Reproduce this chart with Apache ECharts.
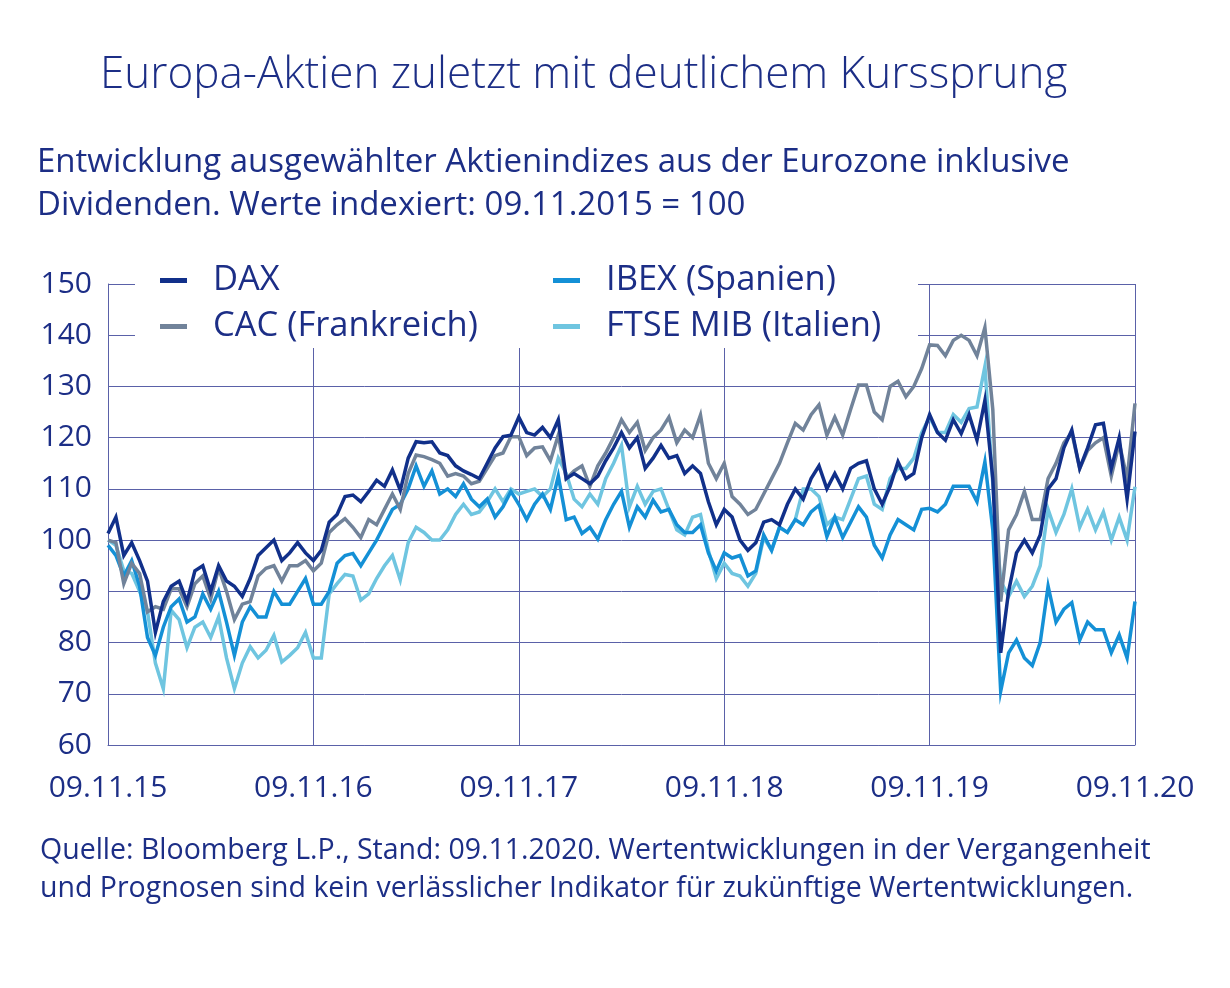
<!DOCTYPE html>
<html>
<head>
<meta charset="utf-8">
<script src="https://cdn.jsdelivr.net/npm/echarts@6/dist/echarts.min.js"></script>
<style>
html,body{margin:0;padding:0;background:#fff;}
#chart{width:1230px;height:988px;}
</style>
</head>
<body>
<div id="chart"></div>
<script>
// x-axis tick labels (one per year, 26 samples per year)
const xLabels = ['09.11.15','09.11.16','09.11.17','09.11.18','09.11.19','09.11.20'];
const seriesNames = ['DAX','CAC (Frankreich)','IBEX (Spanien)','FTSE MIB (Italien)'];

const dax = [101.3,104.5,97,99.5,96,92,82,88,91,92,88,94,95,90,95,92,91,89,92.5,97,98.5,100,96,97.5,99.5,97.5,
96,98,103.5,105,108.5,108.8,107.5,109.5,111.7,110.5,113.7,109.7,116,119.2,119,119.2,117,116.5,114.5,113.5,112.8,112,115,118,120.2,120.5,
124,121,120.5,122,120,123.5,112,113,112,111,112.5,115.5,118,121,118,120,114,116,118.5,116,116.5,113,114.5,113,107.5,103,
106,104.5,100,98,99.5,103.5,104,103,107,110,108,112,114.5,110,113,110,114,115,115.5,110,107,110.5,115.3,112,113,120,
124.5,121,119.5,123.5,120.8,124.5,119.5,127.3,112,78,90,97.5,100,97.5,101,110,112,118,121.5,114,118,122.5,122.8,114,120,108,121.2];

const cac = [100,99.5,91.5,95.5,93.5,86,87,86.5,90.5,90.5,87,91.5,93,88.5,94.5,90,84.5,87.5,88,93,94.5,95,92,95,95,96,
94,95.5,101.5,103,104.2,102.5,100.5,104,103,106,109,106,113,116.6,116.3,115.7,115,112.5,113,112.5,111,111.5,114,116.5,117,120.2,
120.2,116.5,118,118.2,115.5,120.5,112,113.5,114.5,110.5,114.5,117,120,123.5,121,123,117.5,120,121.5,124,119,121.5,120,124.4,115,112,
115,108.5,107,105,106,109,112,115,119,122.8,121.5,124.5,126.4,120.5,124,120.5,125.5,130.3,130.3,125,123.5,130,131,128,130,133.5,
138.1,138,136,139,140,139,136,141.5,125.5,88,102,105,109.5,104,104,112,115,119,121,114,117.5,119,120,112.5,119,112,126.7];

const ibex = [99,97,93,96,91,81,77.5,83,87,88.5,84,85,89.5,86.5,90,84,77.5,84,87,85,85,90,87.5,87.5,90,92.5,
87.5,87.5,90,95.5,97,97.4,95,97.5,100,103,106,107,110,114.5,110.5,113.5,109,110,108.5,111,108,106.5,108,104.5,106.5,109.5,
107,104,107,109,106,112.5,104,104.5,101.3,102.5,100.2,104,107,109.5,102.5,106.5,104.5,107.8,105.5,106,103,101.5,101.5,103,97.5,94,
97.5,96.5,97,93,94,101,98,102.5,101.5,104,103,105.5,106.8,100.7,104.5,100.5,103.5,106.5,104.5,99,96.5,101,104,103,102,106,
106.2,105.5,107,110.5,110.5,110.5,107.5,115.3,102,70.5,78,80.5,77,75.5,80,91,84,86.5,87.8,80.5,84,82.5,82.5,78,81.5,77,88];

const ftse = [100,99,94,93.5,90,86,76,71,86.3,84.5,79,83,84,81,85,77,71,76,79.2,77,78.5,81.4,76.2,77.5,79,82,
77,77,89.5,91.5,93.3,93,88.3,89.5,92.5,95,97,92.2,99.5,102.5,101.5,100,100,102,105,107,105,105.5,107.5,110,107.5,110,
109,109.5,110,108.5,110,116,113,108,106.5,109,107,112,115,118.5,106.5,110.5,107,109.5,110,106,102,101,104.5,105,98,92.5,
95.5,93.5,93,91,93.5,100.5,98,102.5,101.5,104,110,110,108.5,103,104.5,104,108,112,112.5,107,106,112,114,114,116,121,
124,121,121,124.5,123,125.7,126,133.9,111,92,89,92,89,91,95,106,101.5,105,110,102.5,106,102,105.5,100,104.5,100,110.4];

const colors = ['#11308a','#71839a','#1490d6','#6fc5e0'];
const textColor = '#1c2e86';
const gridColor = '#5a61a8';
const FONT = '"Open Sans", "Noto Sans", sans-serif';

const chart = echarts.init(document.getElementById('chart'), null, {renderer:'canvas'});
const allData = [dax, cac, ibex, ftse];
const order = [3,2,1,0];
const series = order.map(k => ({
  name: seriesNames[k],
  type: 'line',
  data: allData[k].map((v,i)=>[i,v]),
  showSymbol: false,
  symbol: 'none',
  lineStyle: {width: 3.5, color: colors[k], join: 'miter'},
  itemStyle: {color: colors[k]},
  z: 2 + (3-k),
  animation: false
}));

const option = {
  animation: false,
  backgroundColor: '#fff',
  textStyle: {fontFamily: FONT},
  title: [
    {text: 'Europa-Aktien zuletzt mit deutlichem Kurssprung', left: 100, top: 50, padding: 0,
     textStyle: {fontFamily: FONT, fontSize: 44, fontWeight: 300, color: textColor, lineHeight: 50}},
    {text: 'Entwicklung ausgewählter Aktienindizes aus der Eurozone inklusive\nDividenden. Werte indexiert: 09.11.2015 = 100',
     left: 37, top: 141, padding: 0,
     textStyle: {fontFamily: FONT, fontSize: 33, fontWeight: 400, color: textColor, lineHeight: 43}},
    {text: 'Quelle: Bloomberg L.P., Stand: 09.11.2020. Wertentwicklungen in der Vergangenheit\nund Prognosen sind kein verlässlicher Indikator für zukünftige Wertentwicklungen.',
     left: 40, top: 832, padding: 0,
     textStyle: {fontFamily: FONT, fontSize: 28.5, fontWeight: 400, color: textColor, lineHeight: 38}}
  ],
  legend: [
    {data: [seriesNames[0], seriesNames[1]], orient: 'vertical', left: 160, top: 263, padding: 0,
     icon: 'rect', itemWidth: 27, itemHeight: 5, itemGap: 11, z: 20,
     textStyle: {fontFamily: FONT, fontSize: 34.5, color: textColor, lineHeight: 34, padding: [0,0,0,21]}},
    {data: [seriesNames[2], seriesNames[3]], orient: 'vertical', left: 553, top: 263, padding: 0,
     icon: 'rect', itemWidth: 27, itemHeight: 5, itemGap: 11, z: 20,
     textStyle: {fontFamily: FONT, fontSize: 34.5, color: textColor, lineHeight: 34, padding: [0,0,0,21]}}
  ],
  graphic: {elements: [
    {type: 'rect', z: 10, shape: {x: 135, y: 270, width: 783, height: 78}, style: {fill: '#fff'}, silent: true}
  ]},
  grid: {left: 108, right: 95, top: 284, bottom: 243, containLabel: false},
  xAxis: {
    type: 'value', min: 0, max: 130, interval: 26,
    axisLine: {show: true, lineStyle: {color: gridColor, width: 1}},
    axisTick: {show: false},
    splitLine: {show: true, lineStyle: {color: gridColor, width: 1}},
    axisLabel: {margin: 28, fontFamily: FONT, fontSize: 30, color: textColor,
      formatter: v => xLabels[Math.round(v/26)] || '', showMaxLabel: true, showMinLabel: true}
  },
  yAxis: {
    type: 'value', min: 60, max: 150, interval: 10,
    axisLine: {show: true, lineStyle: {color: gridColor, width: 1}},
    axisTick: {show: false},
    splitLine: {show: true, lineStyle: {color: gridColor, width: 1}},
    axisLabel: {margin: 16, fontFamily: FONT, fontSize: 30, color: textColor}
  },
  series: series
};
chart.setOption(option);
</script>
</body>
</html>
